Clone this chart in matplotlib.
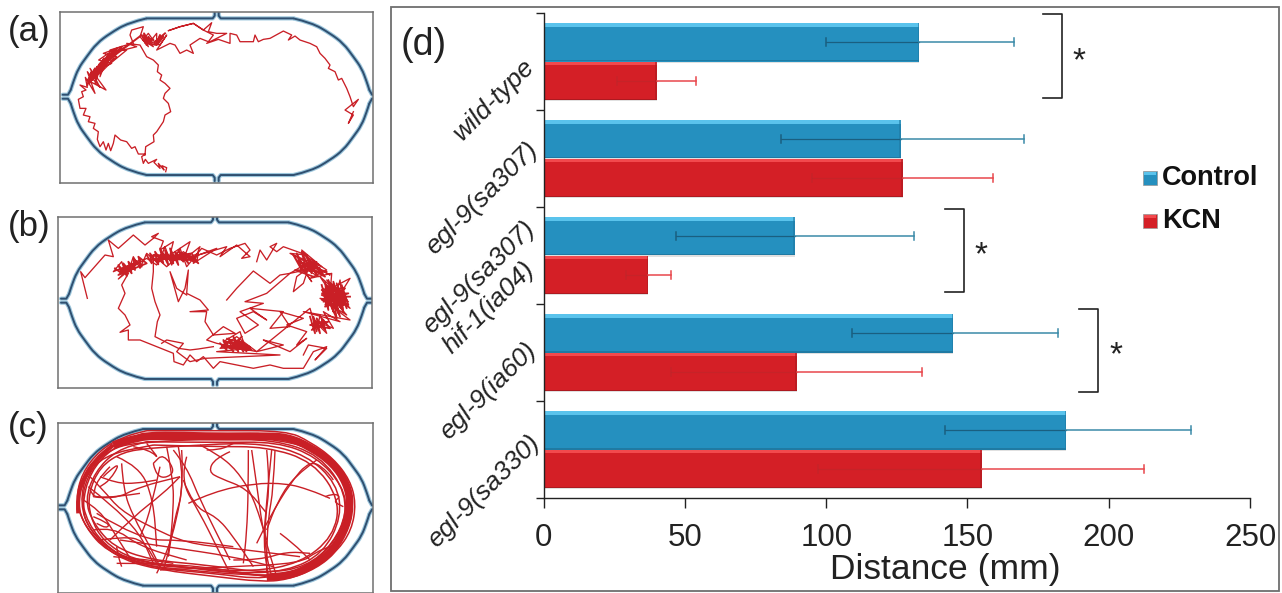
import numpy as np
import matplotlib
matplotlib.use("Agg")
import matplotlib.pyplot as plt
from matplotlib.patches import Rectangle, PathPatch
from matplotlib.path import Path

plt.rcParams['font.family'] = ['Liberation Sans', 'DejaVu Sans']

W, H = 1282, 593

categories = ['wild-type', 'egl-9(sa307)', 'egl-9(sa307)\nhif-1(ia04)', 'egl-9(ia60)', 'egl-9(sa330)']
control = [133, 126.5, 89, 145, 185]
control_lo = [100, 84, 47, 109, 142]
control_hi = [166.5, 170, 131, 182, 229]
kcn = [40, 127, 37, 89.5, 155]
kcn_lo = [26, 95, 29, 45, 97]
kcn_hi = [54, 159, 45, 134, 212.5]
x_ticks = [0, 50, 100, 150, 200, 250]
series_names = ['Control', 'KCN']

traj_a_1 = [(497,515),(500,503),(486,497),(492,510),(475,490),(480,505),(462,487),(470,478),(445,490),(436,478),(430,490),(425,470),(436,462),
 (415,462),(405,440),(395,445),(380,425),(362,420),(345,405),(340,430),(332,452),(325,430),(318,450),(310,425),(300,440),(292,418),(295,395),
 (280,385),(285,370),(265,365),(270,350),(250,345),(258,325),(240,325),(235,298),(250,290),(245,275),(258,270),(240,255),(262,262),(256,232),
 (285,280),(262,215),(300,262),(270,205),(318,270),(262,240),(300,190),(285,250),(310,178),(300,230),(325,165),(290,210),(335,190),(296,180),
 (340,150),(305,215),(350,170),(310,160),(365,140),(325,195),(380,150),(330,150),(395,130),(350,155),(410,140),(380,130),(420,135),
 (440,170),(460,180),(475,195),(472,215),(485,225),(480,240),(495,250),(510,265),(495,280),(490,295),(505,310),(512,335),(495,345),(490,365),
 (470,395),(460,405),(462,425),(437,440),(435,465)]
traj_a_2 = [(400,130),(390,105),(395,90),(430,80),(420,110),(445,140),(430,105),(460,140),(428,120),(445,100),(470,135),(470,100),(450,125),(480,135),
 (500,105),(470,150),(510,130),(525,135),(540,160),(560,150),(580,160),(570,135),(600,115),(625,125),(640,105),(620,95),(610,90),(580,70),(540,80),
 (505,92),(540,80),(580,70),(610,90),(635,68),(625,95),(650,100),(680,100),(620,130),(655,118),(690,130),(690,100),(710,105),(720,125),(760,125),
 (765,105),(775,125),(790,118),(810,115),(850,93),(875,105),(865,120),(885,108),(900,120),(930,130),(950,140),(960,160),(975,175),(990,195),(985,205),
 (1005,215),(1015,240),(1025,235),(1040,265),(1050,290),(1060,320),(1075,298),(1035,330),(1060,345),(1045,370),(1060,335)]
traj_a_dense = [(262,255),(275,215),(268,250),(285,205),(272,245),(292,200),(278,240),(300,190),(285,235),(305,185),(288,228),(312,175),(296,222),(322,168),
 (300,215),(330,160),(310,205),(340,150),(318,195),(350,145),(330,180),(365,140),(345,165),(385,135),
 (425,105),(440,135),(432,100),(450,130),(445,110),(455,125),(430,120),(460,118),(435,128),(470,135),(480,105),(475,130),(490,110),(465,125),(495,100)]

traj_b_1 = [(112,280),(92,200),(105,218),(165,150),(190,155),(175,105),(205,130),(250,90),(285,120),(310,100),(325,85),(305,95),(340,108),(330,135),
 (370,110),(360,150),(420,110),(400,165),(450,125),(430,175),(500,130),(445,150),(530,125),(510,155),(560,120),(600,155),(575,160),(600,135),(585,115),(540,130),
 (500,150),(455,130),(410,185),(390,130),(365,180),(345,125),(325,175),(290,145),(270,190),(250,155),(230,215),(215,170),(190,200),(250,175),(205,222),
 (270,170),(230,195),(290,160),(320,180),(340,145),(360,165),(385,140),(410,160),(445,145),(440,170),(400,140),(350,185),(310,150),
 (310,200),(305,250),(315,290),(330,330),(322,350),(315,395),(345,410),(385,430),(420,435),(445,432),(490,425)]
traj_b_2 = [(235,205),(215,240),(225,265),(205,310),(225,330),(240,360),(210,382),(235,375),(235,405),(270,405),(320,425),(370,445),(372,470),(400,480),(420,450),(440,470),(460,455),
 (490,490),(510,470),(560,480),(610,490),(660,480),(700,490),(760,490),(790,440),(830,425),(795,465),(830,430),(775,420),(760,450)]
traj_b_3 = [(335,415),(350,405),(400,415),(380,440),(420,470),(465,460),(690,450),(500,440),(600,430),(520,410),(570,380),(590,440),(530,400),(600,425),(510,430),(560,395),(620,440),(500,415),
 (470,405),(520,365),(555,385),(490,390),(465,350),(470,320),(420,320),(475,315),(450,285),(410,265),(415,195),(405,250),(385,290),(360,200),(380,250),(410,270)]
traj_b_4 = [(530,285),(560,250),(610,198),(660,235),(690,210),(720,205),(650,265),(585,290),(640,295),(570,320),(625,360),(585,385),(560,340),(610,320),(650,345),(600,310),(700,320),(660,370),
 (720,365),(690,320),(760,340),(710,360),(770,380),(740,420),(770,400),(720,440),(650,410),(640,405),(700,420),(620,440),
 (780,310),(800,380),(810,330),(830,385),(790,345),(850,370),(820,320),(870,350),(760,320),(900,345),(840,300),(880,290),(810,280),(890,330),(820,250),(900,310),(830,225),
 (885,270),(815,265),(900,220),(850,300),(870,225),(880,320),(810,215),(895,290),(835,245),(870,290),(815,285),(860,250),(890,300),(825,300),(850,235),(875,310),(840,270),
 (845,205),(780,220),(830,195),(770,155),(805,215),(750,180),(785,230),(730,150),(815,185),(755,135),(790,190),(720,205),(770,175),(800,170),(740,215),(730,260),(760,235),(780,175),(840,210),
 (720,145),(770,150),(700,125),(680,140),(660,125),(680,115),(650,165),(630,135),(620,170)]
traj_b_dense = [
 [(290,150),(305,175),(300,145),(325,178),(315,140),(340,175),(330,130),(355,180),(345,135),(370,175),(360,130),(385,180),(375,140),(400,170),(385,135),(415,175),(400,145),(430,170),(415,150),(445,175),(425,145),(300,165),(440,155),(310,150),(420,165),(330,160)],
 [(195,190),(215,205),(205,180),(230,210),(220,175),(245,205),(235,170),(255,195),(250,160),(275,185),(265,155),(290,175),(205,210),(260,170),(215,195),(270,165)],
 [(815,240),(835,315),(825,230),(850,320),(835,225),(865,325),(850,230),(880,320),(860,235),(890,310),(875,240),(895,300),(815,270),(895,265),(820,290),(890,285),(825,305),(885,250),(815,255),(875,300),(830,240),(870,335),(845,250),(860,340),(830,275),(900,275)],
 [(730,150),(755,195),(740,145),(770,200),(755,140),(785,205),(770,150),(800,210),(780,165),(815,205),(790,170),(825,215),(745,170),(810,190),(760,180),(830,200),(735,195),(790,215)],
 [(780,335),(795,385),(790,335),(810,385),(800,340),(825,375),(815,340),(840,370),(780,360),(835,350),(785,375),(820,345)],
 [(510,415),(530,435),(520,405),(550,440),(535,400),(565,440),(550,395),(580,440),(565,405),(595,435),(575,410),(605,435),(515,425),(590,420),(530,410),(600,430),(545,425),(575,395)],
]

rim_c_thick = [(340,135),(420,108),(520,105),(650,110),(780,108),(860,110),(930,140),(1000,190),(1040,250),(1052,310),(1040,380),(1000,450),(950,490),(880,525),(800,532)]
rim_c_band = [(235,340),(232,290),(250,235),(285,180),(340,135)]
loops_c = [
 [(440,92),(650,92),(860,92),(930,125),(1000,175),(1050,240),(1068,310),(1055,390),(1010,455),(950,505),(860,540),(780,545),(650,530),(480,510),(370,480),(300,430),(250,370),(228,300),(245,220),(300,150),(370,110),(440,92)],
 [(430,100),(650,100),(850,100),(1000,185),(1060,310),(1045,395),(960,495),(840,535),(650,510),(470,495),(350,465),(270,395),(240,310),(260,215),(320,140),(430,100)],
 [(440,125),(650,128),(830,125),(950,170),(1030,260),(1040,340),(1000,430),(920,500),(800,520),(620,495),(450,480),(340,440),(280,370),(255,300),(285,215),(350,150),(440,125)],
 [(460,135),(640,140),(800,140),(940,185),(1020,300),(1000,410),(900,490),(760,515),(600,505),(440,495),(320,455),(255,380),(232,310),(250,240),(310,165),(460,135)],
 [(420,118),(640,120),(820,118),(960,165),(1040,280),(1030,390),(940,495),(800,540),(640,520),(460,505),(340,460),(265,385),(245,320),(270,215),(340,140),(420,118)],
 [(450,145),(620,132),(790,130),(920,165),(1010,250),(1025,350),(970,460),(860,515),(700,520),(540,500),(400,480),(310,425),(270,350),(265,280),(300,200),(370,155),(450,145)],
 [(410,130),(600,115),(800,112),(960,150),(1055,280),(1050,370),(990,470),(860,525),(730,525),(560,510),(420,495),(330,450),(262,370),(242,280),(290,180),(350,140),(410,130)],
]
curves_c = [
 [(745,150),(745,270),(740,400),(730,490)],
 [(800,150),(810,250),(795,360),(795,450),(815,530)],
 [(825,150),(820,270),(805,350),(800,450),(800,520)],
 [(755,150),(775,290),(790,400),(830,530)],
 [(815,150),(800,300),(790,430),(805,530)],
 [(690,155),(645,175),(625,215),(660,235),(740,265),(800,340)],
 [(565,310),(640,275),(760,250),(860,250),(930,270),(990,295)],
 [(975,290),(1000,280),(1022,290),(1000,305),(1030,320)],
 [(1000,240),(980,210),(930,180),(870,250),(810,350),(770,430)],
 [(545,150),(550,240),(530,360),(500,460),(470,520)],
 [(535,140),(555,250),(520,370),(505,470)],
 [(500,140),(520,240),(520,330),(510,440),(490,510)],
 [(560,170),(540,240),(600,340),(650,440),(690,520)],
 [(550,240),(580,320),(650,350),(700,410),(760,500)],
 [(365,190),(370,270),(400,350),(450,440),(480,500)],
 [(460,190),(470,240),(530,220),(490,160),(460,190)],
 [(280,290),(340,300),(420,260),(540,230)],
 [(270,230),(310,270),(360,330),(450,380),(560,430),(700,445),(900,470)],
 [(300,420),(370,410),(430,420),(470,490)],
 [(330,420),(400,350),(490,280),(540,230)],
 [(350,440),(355,470),(365,500)],
 [(280,350),(330,370),(320,385),(290,370)],
 [(350,490),(550,490),(800,530)],
 [(480,510),(700,500),(900,490),(950,455),(990,440)],
 [(950,180),(880,230),(830,310),(800,390)],
 [(840,400),(880,430),(930,480)],
 [(600,135),(650,160),(710,210),(760,290),(800,420)],
 [(330,200),(290,240),(280,290)],
 [(420,280),(290,300),(270,270)],
 [(290,340),(420,420),(550,420),(700,440)],
 [(340,470),(450,480),(520,490)],
 [(480,200),(450,340),(420,410)],
 [(310,230),(330,210),(360,190),(330,240),(300,260)],
 [(620,150),(660,150),(700,130)],
 [(520,150),(560,200),(600,300),(690,480)],
 [(400,140),(450,150),(480,180),(440,130)],
 [(250,300),(300,330),(350,410),(400,490)],
 [(700,480),(780,480),(860,455),(930,460)],
 [(300,230),(350,250),(410,250),(470,240)],
 [(265,260),(330,310),(420,400),(460,490)],
 [(280,390),(340,380),(420,440),(560,480)],
 [(350,170),(420,200),(460,300),(470,440)],
 [(360,420),(500,440),(700,470),(820,500)],
]

ARENA_DX = [0, 55, 110, 150, 180, 205, 220, 228]
ARENA_DY = [0, 13, 45, 75, 115, 150, 190, 215]

fig = plt.figure(figsize=(W / 100, H / 100), dpi=100, facecolor='white')


def axes_px(x0, y0, x1, y1):
    return fig.add_axes([x0 / W, 1 - y1 / H, (x1 - x0) / W, (y1 - y0) / H])


RED = '#c91f26'


def smooth_path(pts):
    pts = np.asarray(pts, float)
    verts = [pts[0]]
    codes = [Path.MOVETO]
    for i in range(1, len(pts) - 1):
        verts += [pts[i], (pts[i] + pts[i + 1]) / 2]
        codes += [Path.CURVE3, Path.CURVE3]
    verts.append(pts[-1])
    codes.append(Path.LINETO)
    return Path(verts, codes)


def arena(ax, cl, cr, cy, r, nx):
    top, bot = cy - r, cy + r
    dx = np.array(ARENA_DX, float)
    dy = np.array(ARENA_DY, float)
    for col, lw in (('#9cc6dc', 3.0), ('#2f4f70', 1.4)):
        kw = dict(color=col, lw=lw, zorder=2, solid_capstyle='round')
        ax.plot([cl, nx - 12, nx - 6, nx - 6], [top, top, top - 8, top - 18], **kw)
        ax.plot([cr, nx + 12, nx + 6, nx + 6], [top, top, top - 8, top - 18], **kw)
        ax.plot([cl, nx - 12, nx - 6, nx - 6], [bot, bot, bot + 8, bot + 18], **kw)
        ax.plot([cr, nx + 12, nx + 6, nx + 6], [bot, bot, bot + 8, bot + 18], **kw)
        for c, sx in ((cl, -1), (cr, 1)):
            for sy in (-1, 1):
                xs = c + sx * dx
                ys = cy + sy * (r - dy)
                ax.add_patch(PathPatch(smooth_path(np.column_stack([xs, ys])), fc='none',
                                       ec=col, lw=lw, zorder=2))
                ax.plot([xs[-1], xs[-1] + sx * 8, xs[-1] + sx * 24],
                        [ys[-1], cy + sy * 6, cy + sy * 6], **kw)


def panel(box, xlim, ylim):
    ax = axes_px(*box)
    ax.set_xlim(*xlim)
    ax.set_ylim(*ylim)
    ax.set_xticks([])
    ax.set_yticks([])
    for s in ax.spines.values():
        s.set_color('#707070')
        s.set_linewidth(1.1)
    return ax


def poly(ax, pts, lw=0.95):
    p = np.asarray(pts)
    ax.plot(p[:, 0], p[:, 1], color=RED, lw=lw, zorder=3, solid_joinstyle='round')


# panel (a)
ax_a = panel((60, 11.7, 372.7, 182.7), (180, 1118), (548, 35))
arena(ax_a, 440, 880, 290, 235, 650)
poly(ax_a, traj_a_1)
poly(ax_a, traj_a_2)
poly(ax_a, traj_a_dense, lw=1.4)

# panel (b)
ax_b = panel((58, 216.7, 371.7, 388.3), (24, 965), (550, 35))
arena(ax_b, 285, 715, 287, 235, 495)
for t in (traj_b_1, traj_b_2, traj_b_3, traj_b_4):
    poly(ax_b, t)
for t in traj_b_dense:
    poly(ax_b, t, lw=1.3)

# panel (c)
ax_c = panel((58.3, 422.7, 372.7, 593), (175, 1118), (579, 68))
arena(ax_c, 430, 880, 322, 235, 645)
ax_c.add_patch(PathPatch(smooth_path(rim_c_thick), fc='none', ec=RED, lw=5.5, zorder=3))
ax_c.add_patch(PathPatch(smooth_path(rim_c_band), fc='none', ec=RED, lw=3.0, zorder=3))
for t in loops_c:
    ax_c.add_patch(PathPatch(smooth_path(t), fc='none', ec=RED, lw=1.1, zorder=3))
for t in curves_c:
    ax_c.add_patch(PathPatch(smooth_path(t), fc='none', ec=RED, lw=1.0, zorder=3))

# panel (d) frame
fig.add_artist(Rectangle((391 / W, 1 - 591 / H), (1279 - 391) / W, (591 - 6.5) / H,
                         transform=fig.transFigure, fc='none', ec='#6e6e6e', lw=1.3))

ax = axes_px(543.7, 13, 1250, 498)
ax.set_xlim(0, 250)
ax.set_ylim(5, 0)
ax.patch.set_alpha(0)
pos = np.arange(len(categories)) + 0.5
h = 0.40
yb, yr = pos - h / 2, pos + h / 2


def bevel_bars(y, vals, main, light, dark):
    ax.barh(y + 0.012, vals, h, color='#d4d4d4', zorder=1, alpha=0.7)
    ax.barh(y, vals, h, color=main, zorder=2)
    ax.barh(y - h / 2 + 0.02, vals, 0.04, color=light, zorder=2.1)
    ax.barh(y + h / 2 - 0.008, vals, 0.016, color=dark, zorder=2.1)
    ax.barh(y, [0.6] * len(vals), h, left=np.asarray(vals) - 0.6, color=dark, zorder=2.2, alpha=0.6)


bevel_bars(yb, control, '#2590bf', '#5ac3ec', '#1f7aa3')
bevel_bars(yr, kcn, '#d41f26', '#f2494d', '#ad1a20')


def err(y, v, lo, hi, c_in, c_out, a_in):
    for yi, vi, l, u in zip(y, v, lo, hi):
        ax.plot([l, vi], [yi, yi], color=c_in, lw=0.9, zorder=3, alpha=a_in)
        ax.plot([vi, u], [yi, yi], color=c_out, lw=1.1, zorder=3.1)
        ax.plot([l, l], [yi - 0.045, yi + 0.045], color=c_in, lw=1.1, zorder=3, alpha=a_in)
        ax.plot([u, u], [yi - 0.045, yi + 0.045], color=c_out, lw=1.1, zorder=3)


err(yb, control, control_lo, control_hi, '#1a5f80', '#3a8aa8', 1.0)
err(yr, kcn, kcn_lo, kcn_hi, '#b5282c', '#e8474c', 0.45)

for s in ('top', 'right'):
    ax.spines[s].set_visible(False)
for s in ('left', 'bottom'):
    ax.spines[s].set_color('#222222')
    ax.spines[s].set_linewidth(1.0)
ax.set_yticks(np.arange(0, 6))
ax.set_yticklabels([])
ax.tick_params(axis='y', length=5.5, width=1.0, color='#222222', direction='out')
ax.set_xticks(x_ticks)
ax.set_xticklabels([str(t) for t in x_ticks], fontsize=22.5, color='#222222')
ax.tick_params(axis='x', length=7, width=1.0, color='#222222', pad=11)


def txt(x, y, s, **kw):
    fig.text(x / W, 1 - y / H, s, **kw)


txt(945, 570, 'Distance (mm)', fontsize=25.5, ha='center', va='center', color='#222222')

for (cx, cy), label in zip([(494, 100), (482, 198), (489, 287), (488, 391), (484, 491)], categories):
    txt(cx, cy, label, fontsize=19, style='italic', rotation=45,
        ha='center', va='center', color='#222222', linespacing=1.2, multialignment='left')

for x, y, s in [(29, 32, '(a)'), (29, 227, '(b)'), (28, 428, '(c)')]:
    txt(x, y, s, fontsize=25, ha='center', va='center', color='#222222')
txt(424, 45, '(d)', fontsize=27, ha='center', va='center', color='#222222')

# significance brackets
for x0, x1, y0, y1, sx, sy in [(1043, 1062, 14, 98, 1079, 62), (945, 964, 209, 292, 981, 256), (1079, 1098, 309, 392, 1116, 356)]:
    fig.add_artist(plt.Line2D([x0 / W, x1 / W, x1 / W, x0 / W],
                              [1 - y0 / H, 1 - y0 / H, 1 - y1 / H, 1 - y1 / H],
                              transform=fig.transFigure, color='#222222', lw=1.2))
    txt(sx, sy, '*', fontsize=24, ha='center', va='center', color='#222222')

# legend
for y, name, c, l in [(178, series_names[0], '#2590bf', '#5ac3ec'), (221, series_names[1], '#d41f26', '#f2494d')]:
    fig.add_artist(Rectangle((1143 / W, 1 - (y + 7) / H), 14 / W, 14 / H,
                             transform=fig.transFigure, fc=c, ec='#999999', lw=0.5))
    fig.add_artist(Rectangle((1144 / W, 1 - (y - 3) / H), 12 / W, 3 / H,
                             transform=fig.transFigure, fc=l, ec='none'))
    txt(1162, y, name, fontsize=19.5, fontweight='bold', ha='left', va='center', color='#111111')

fig.savefig('out.png', dpi=100)
